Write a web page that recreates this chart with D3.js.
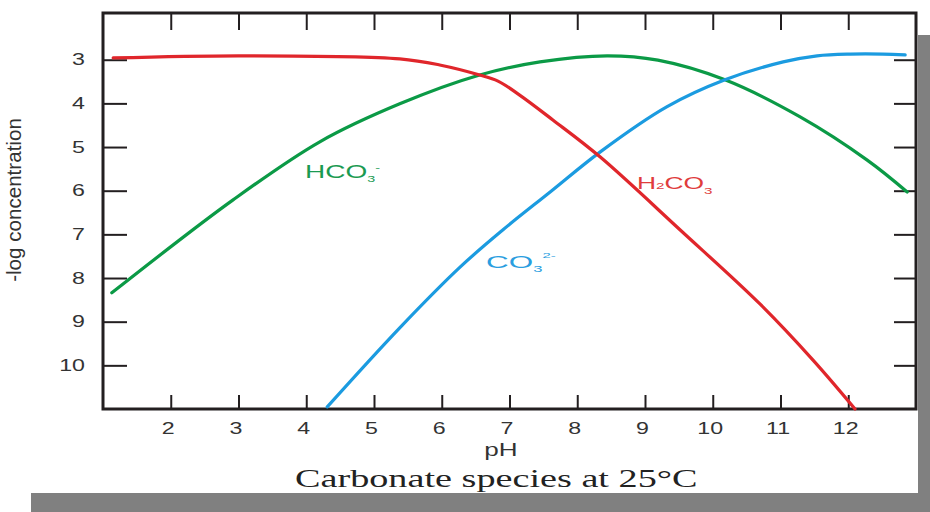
<!DOCTYPE html>
<html>
<head>
<meta charset="utf-8">
<script src="https://cdn.jsdelivr.net/npm/d3@7"></script>
<style>
  html, body { margin: 0; padding: 0; background: #ffffff; }
  svg { display: block; }
</style>
</head>
<body>
<svg id="chart" width="930" height="512"></svg>
<script>
// Carbonate speciation: -log concentration of each species versus pH
const xTicks = [2, 3, 4, 5, 6, 7, 8, 9, 10, 11, 12];
const yTicks = [3, 4, 5, 6, 7, 8, 9, 10];

const pH_H2CO3   = [1.15, 3.02, 5.38, 5.97, 6.56, 6.83, 7.15, 7.64, 8.34, 9.52, 10.70, 11.48, 12.10];
const logC_H2CO3 = [2.96, 2.91, 2.98, 3.12, 3.35, 3.49, 3.81, 4.38, 5.23, 6.90, 8.60, 9.88, 11.0];

const pH_HCO3    = [1.13, 2.92, 4.20, 5.38, 6.56, 7.45, 8.44, 9.19, 10.18, 11.29, 12.28, 12.87];
const logC_HCO3  = [8.34, 6.21, 4.88, 4.01, 3.35, 3.05, 2.91, 3.01, 3.46, 4.31, 5.30, 6.03];

const pH_CO3     = [4.31, 5.38, 6.27, 6.90, 7.60, 8.34, 9.32, 10.18, 11.04, 11.54, 12.03, 12.51, 12.84];
const logC_CO3   = [10.95, 9.14, 7.75, 6.90, 6.03, 5.11, 4.08, 3.46, 3.05, 2.91, 2.87, 2.87, 2.89];

const svg = d3.select("#chart");

// drop shadow behind the white card
svg.append("rect").attr("x", 31).attr("y", 35).attr("width", 899).attr("height", 477).attr("fill", "#808080");
svg.append("rect").attr("x", 0).attr("y", 0).attr("width", 918).attr("height", 493).attr("fill", "#ffffff");

const x = d3.scaleLinear().domain([1, 13]).range([103, 916]);
const y = d3.scaleLinear().domain([1.93, 11]).range([13, 409]);

const axisColor = "#231f20";
const labelColor = "#333333";
const sansFont = "'Liberation Sans', Arial, sans-serif";

function styleAxis(g) {
  g.select(".domain").remove();
  g.selectAll(".tick line").attr("stroke", axisColor).attr("stroke-width", 2);
}

// bottom axis with labels
const gBottom = svg.append("g")
  .attr("transform", `translate(0,${y.range()[1]})`)
  .call(d3.axisBottom(x).tickValues(xTicks).tickSizeInner(-14).tickSizeOuter(0).tickFormat(d3.format("d")));
styleAxis(gBottom);
gBottom.selectAll(".tick text")
  .attr("y", 0).attr("dy", "0.71em")
  .attr("transform", "translate(-3,14) scale(1.45,1)")
  .attr("fill", labelColor).attr("font-size", 16).attr("font-family", sansFont);

// top axis, ticks only
const gTop = svg.append("g")
  .attr("transform", `translate(0,${y.range()[0]})`)
  .call(d3.axisTop(x).tickValues(xTicks).tickSizeInner(-17).tickSizeOuter(0).tickFormat(""));
styleAxis(gTop);

// left axis with labels
const gLeft = svg.append("g")
  .attr("transform", `translate(${x.range()[0]},0)`)
  .call(d3.axisLeft(y).tickValues(yTicks).tickSizeInner(-24).tickSizeOuter(0).tickFormat(d3.format("d")));
styleAxis(gLeft);
gLeft.selectAll(".tick text")
  .attr("x", 0)
  .attr("transform", "translate(-18,0) scale(1.45,1)")
  .attr("fill", labelColor).attr("font-size", 16).attr("font-family", sansFont);

// right axis, ticks only
const gRight = svg.append("g")
  .attr("transform", `translate(${x.range()[1]},0)`)
  .call(d3.axisRight(y).tickValues(yTicks).tickSizeInner(-22).tickSizeOuter(0).tickFormat(""));
styleAxis(gRight);

// plot frame
svg.append("rect")
  .attr("x", x.range()[0]).attr("y", y.range()[0])
  .attr("width", x.range()[1] - x.range()[0])
  .attr("height", y.range()[1] - y.range()[0])
  .attr("fill", "none").attr("stroke", axisColor).attr("stroke-width", 3);

// species curves
const line = d3.line().x(d => x(d[0])).y(d => y(d[1])).curve(d3.curveCatmullRom.alpha(0.5));
const series = [
  { pH: pH_HCO3,  v: logC_HCO3,  color: "#0b9a46" },
  { pH: pH_CO3,   v: logC_CO3,   color: "#1b9be0" },
  { pH: pH_H2CO3, v: logC_H2CO3, color: "#e0262b" }
];
series.forEach(s => {
  svg.append("path")
    .datum(s.pH.map((p, i) => [p, s.v[i]]))
    .attr("d", line)
    .attr("fill", "none")
    .attr("stroke", s.color)
    .attr("stroke-width", 3.2)
    .attr("stroke-linejoin", "round")
    .attr("stroke-linecap", "round");
});

// species labels
function speciesLabel(tx, ty, sx, size, color, parts) {
  const t = svg.append("text")
    .attr("transform", `translate(${tx},${ty}) scale(${sx},1)`)
    .attr("font-family", sansFont).attr("font-size", size).attr("fill", color);
  parts.forEach(p => {
    const ts = t.append("tspan").text(p.text);
    if (p.size) ts.attr("font-size", p.size);
    if (p.dy) ts.attr("dy", p.dy);
  });
}
speciesLabel(305, 178, 1.6, 17.5, "#1a9a52", [
  { text: "HCO" }, { text: "3", size: 9, dy: 4 }, { text: "-", size: 9, dy: -11 }
]);
speciesLabel(637, 189, 1.6, 16.5, "#e03c3c", [
  { text: "H" }, { text: "2", size: 9.5 }, { text: "CO" }, { text: "3", size: 9.5, dy: 5 }
]);
speciesLabel(486, 268, 1.85, 17, "#2a9ee0", [
  { text: "CO" }, { text: "3", size: 9, dy: 4 }, { text: "2-", size: 8, dy: -14 }
]);

// axis titles
svg.append("text")
  .attr("transform", "translate(501,456) scale(1.45,1)")
  .attr("text-anchor", "middle")
  .attr("font-family", sansFont).attr("font-size", 18).attr("fill", labelColor)
  .text("pH");

svg.append("text")
  .attr("transform", "translate(21,200) scale(0.95,1) rotate(-90)")
  .attr("text-anchor", "middle")
  .attr("font-family", sansFont).attr("font-size", 20.6).attr("fill", labelColor)
  .text("-log concentration");

// chart title
svg.append("text")
  .attr("transform", "translate(295,487) scale(1.47,1)")
  .attr("font-family", "'Liberation Serif', 'Times New Roman', serif")
  .attr("font-size", 26).attr("fill", "#222222")
  .text("Carbonate species at 25°C");
</script>
</body>
</html>
